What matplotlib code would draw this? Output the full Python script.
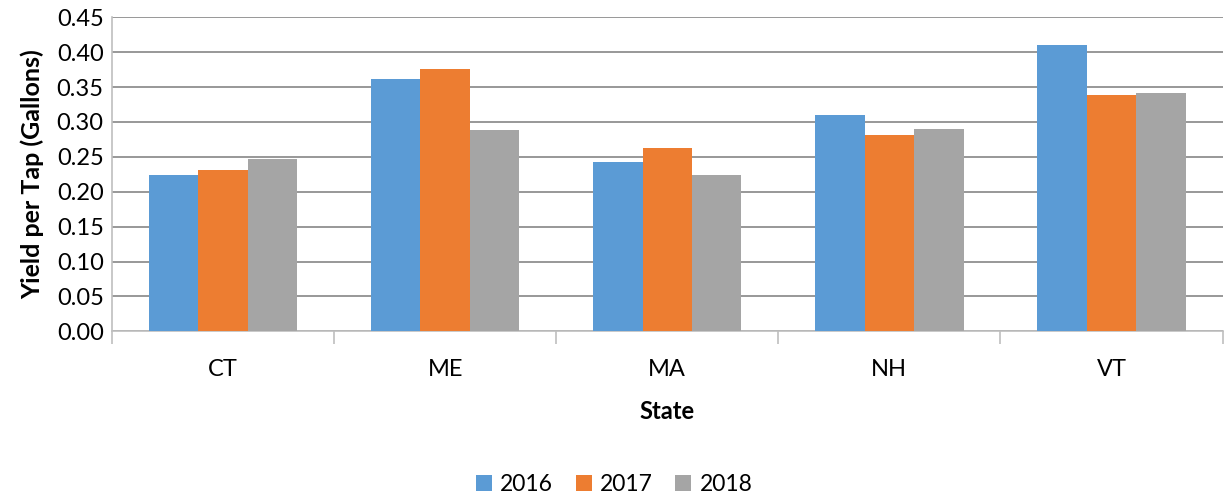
import matplotlib
matplotlib.use("Agg")
import matplotlib.pyplot as plt
import numpy as np

# values
states = ["CT", "ME", "MA", "NH", "VT"]
years = ["2016", "2017", "2018"]
y2016 = [0.224, 0.362, 0.243, 0.310, 0.410]
y2017 = [0.231, 0.376, 0.262, 0.281, 0.338]
y2018 = [0.247, 0.288, 0.224, 0.290, 0.342]
colors = ["#5B9BD5", "#ED7D31", "#A5A5A5"]

plt.rcParams['font.family'] = ['Lato', 'DejaVu Sans']

fig = plt.figure(figsize=(12.25, 4.93), dpi=100)
ax = fig.add_axes([0.0914, 0.328, 0.9066, 0.637])

x = np.arange(len(states))
w = 0.2225
for i, (vals, yr) in enumerate(zip([y2016, y2017, y2018], years)):
    ax.bar(x + (i - 1) * w, vals, width=w, color=colors[i], label=yr, zorder=3)

ax.set_xlim(-0.5, len(states) - 0.5)
ax.set_ylim(0, 0.45)
ax.set_yticks(np.arange(0, 0.451, 0.05))
ax.set_yticklabels(["%.2f" % v for v in np.arange(0, 0.451, 0.05)], fontsize=17)
ax.yaxis.grid(True, color="#868686", linewidth=1.2, zorder=0)
ax.tick_params(axis="y", length=0, pad=6)

# category labels + boundary ticks
ax.set_xticks(np.arange(-0.5, len(states)), minor=False)
ax.set_xticklabels([])
ax.set_xticks(x, minor=True)
ax.set_xticklabels(states, minor=True, fontsize=17)
ax.tick_params(axis="x", which="major", length=9, color="#BFBFBF", width=1.2)
ax.tick_params(axis="x", which="minor", length=0, pad=20)

for s in ["top", "right"]:
    ax.spines[s].set_visible(False)
ax.spines["left"].set_color("#BFBFBF")
ax.spines["bottom"].set_color("#BFBFBF")
ax.spines["left"].set_linewidth(1.2)
ax.spines["bottom"].set_linewidth(1.2)

ax.set_xlabel("State", fontsize=17, fontweight="bold", labelpad=14)
ax.set_ylabel("Yield per Tap (Gallons)", fontsize=18, fontweight="bold", labelpad=9)

ax.legend(loc="lower center", bbox_to_anchor=(0.452, -0.55), ncol=3, frameon=False,
          fontsize=16.5, handlelength=0.7, handleheight=0.7, handletextpad=0.35,
          columnspacing=1.0, borderaxespad=0)

fig.savefig("out.png", dpi=100)
